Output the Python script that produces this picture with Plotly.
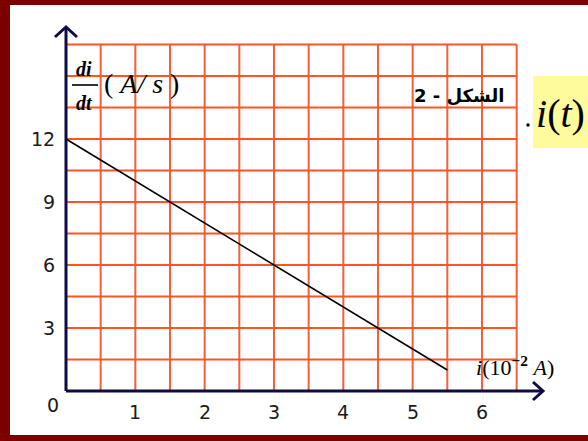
import numpy as np
import plotly.graph_objects as go

# ---- data ----
i_values = [0, 5.5]          # i (10^-2 A)
didt_values = [12, 1]        # di/dt (A/s)
x_tick_vals = [1, 2, 3, 4, 5, 6]
y_tick_vals = [3, 6, 9, 12]

W, H = 588, 441
X0PX, Y0PX = 66, 391
XU, YU = 69.33, 21.0
L, R, T, B = 20, 20, 10, 20
PW, PH = W - L - R, H - T - B

def dx(px):
    return (px - X0PX) / XU

def dy(py):
    return (Y0PX - py) / YU

def pxp(px):
    return (px - L) / PW

def pyp(py):
    return (H - B - py) / PH

fig = go.Figure()

BORDER = "#7d0000"
shapes = []
# dark red frame: left, top, bottom
for (a, b_, c, d) in [(0, 10, 0, 441), (0, 588, 0, 5), (0, 588, 435, 441)]:
    shapes.append(dict(type="rect", xref="paper", yref="paper", layer="below",
                       x0=pxp(a), x1=pxp(b_), y0=pyp(d), y1=pyp(c),
                       fillcolor=BORDER, line=dict(width=0)))
# yellow highlight box
shapes.append(dict(type="rect", xref="paper", yref="paper", layer="below",
                   x0=pxp(533), x1=pxp(588), y0=pyp(148), y1=pyp(76),
                   fillcolor="#fdfb9c", line=dict(width=0)))

# grid
GX_MAX, GY_MAX = 6.5, 16.5
for gx in np.arange(0.5, GX_MAX + 0.01, 0.5):
    shapes.append(dict(type="line", xref="x", yref="y", x0=gx, x1=gx, y0=0, y1=GY_MAX,
                       line=dict(color="#f5603a", width=2), layer="below"))
for gy in np.arange(1.5, GY_MAX + 0.01, 1.5):
    shapes.append(dict(type="line", xref="x", yref="y", x0=0, x1=GX_MAX, y0=gy, y1=gy,
                       line=dict(color="#ff5520", width=2), layer="below"))

AX_COL = "#0d0d45"
YTIP, XTIP = dy(27), dx(543)
# axes
shapes.append(dict(type="line", xref="x", yref="y", x0=0, x1=0, y0=0, y1=YTIP,
                   line=dict(color=AX_COL, width=3)))
shapes.append(dict(type="line", xref="x", yref="y", x0=0, x1=XTIP, y0=0, y1=0,
                   line=dict(color=AX_COL, width=3)))
# arrow heads
ax_, ay_ = 11 / XU, 10 / YU
shapes.append(dict(type="path", xref="x", yref="y",
                   path=f"M {-ax_} {YTIP - ay_} L 0 {YTIP} L {ax_} {YTIP - ay_}",
                   line=dict(color=AX_COL, width=3)))
bx_, by_ = 10 / XU, 9 / YU
shapes.append(dict(type="path", xref="x", yref="y",
                   path=f"M {XTIP - bx_} {by_} L {XTIP} 0 L {XTIP - bx_} {-by_}",
                   line=dict(color=AX_COL, width=3)))
# fraction bar
shapes.append(dict(type="line", xref="x", yref="y", x0=dx(72), x1=dx(98), y0=dy(85), y1=dy(85),
                   line=dict(color="black", width=1.6)))
# dot before i(t)
shapes.append(dict(type="circle", xref="x", yref="y", x0=dx(526.3), x1=dx(529.7),
                   y0=dy(126.7), y1=dy(123.3), fillcolor="black", line=dict(width=0)))

fig.add_trace(go.Scatter(x=i_values, y=didt_values, mode="lines",
                         line=dict(color="black", width=1.6), hoverinfo="skip",
                         showlegend=False))

ann = []
TF = dict(family="DejaVu Sans", size=19, color="#1a1a1a")
for v in x_tick_vals:
    ann.append(dict(x=v, y=0, xref="x", yref="y", text=str(v), showarrow=False,
                    xanchor="center", yanchor="middle", yshift=-21, font=TF))
for v in y_tick_vals:
    ann.append(dict(x=0, y=v, xref="x", yref="y", text=str(v), showarrow=False,
                    xanchor="right", yanchor="middle", xshift=-9, font=TF))
ann.append(dict(x=0, y=0, xref="x", yref="y", text="0", showarrow=False,
                xanchor="center", yanchor="middle", xshift=-13, yshift=-14, font=TF))

SERIF = "Liberation Serif"
ann.append(dict(x=dx(84), y=dy(69), xref="x", yref="y", text="<b><i>di</i></b>",
                showarrow=False, xanchor="center", yanchor="middle",
                font=dict(family=SERIF, size=20, color="black")))
ann.append(dict(x=dx(84), y=dy(103), xref="x", yref="y", text="<b><i>dt</i></b>",
                showarrow=False, xanchor="center", yanchor="middle",
                font=dict(family=SERIF, size=20, color="black")))
ann.append(dict(x=dx(141), y=dy(83), xref="x", yref="y", text="( <i>A/ s</i> )",
                showarrow=False, xanchor="center", yanchor="middle",
                font=dict(family=SERIF, size=28, color="black")))
ann.append(dict(x=dx(474), y=dy(366), xref="x", yref="y",
                text="<i>i</i>(10<sup><b>−2</b></sup> <i>A</i>)",
                showarrow=False, xanchor="left", yanchor="middle",
                font=dict(family=SERIF, size=22, color="black")))
ann.append(dict(x=dx(459), y=dy(95), xref="x", yref="y", text="<b>2 - الشكل</b>",
                showarrow=False, xanchor="center", yanchor="middle",
                font=dict(family="DejaVu Sans", size=18, color="black")))
ann.append(dict(x=pxp(560), y=pyp(113), xref="paper", yref="paper", text="<i>i</i>(<i>t</i>)",
                showarrow=False, xanchor="center", yanchor="middle",
                font=dict(family=SERIF, size=40, color="black")))

fig.update_layout(
    width=W, height=H,
    margin=dict(l=L, r=R, t=T, b=B, pad=0),
    paper_bgcolor="white",
    plot_bgcolor="rgba(0,0,0,0)",
    shapes=shapes,
    annotations=ann,
    showlegend=False,
    xaxis=dict(range=[dx(L), dx(W - R)], visible=False, fixedrange=True),
    yaxis=dict(range=[dy(H - B), dy(T)], visible=False, fixedrange=True),
)

fig.write_html(
    "out.html",
    post_script="document.body.style.margin='0';document.documentElement.style.overflow='hidden';",
    config={"displayModeBar": False},
)
